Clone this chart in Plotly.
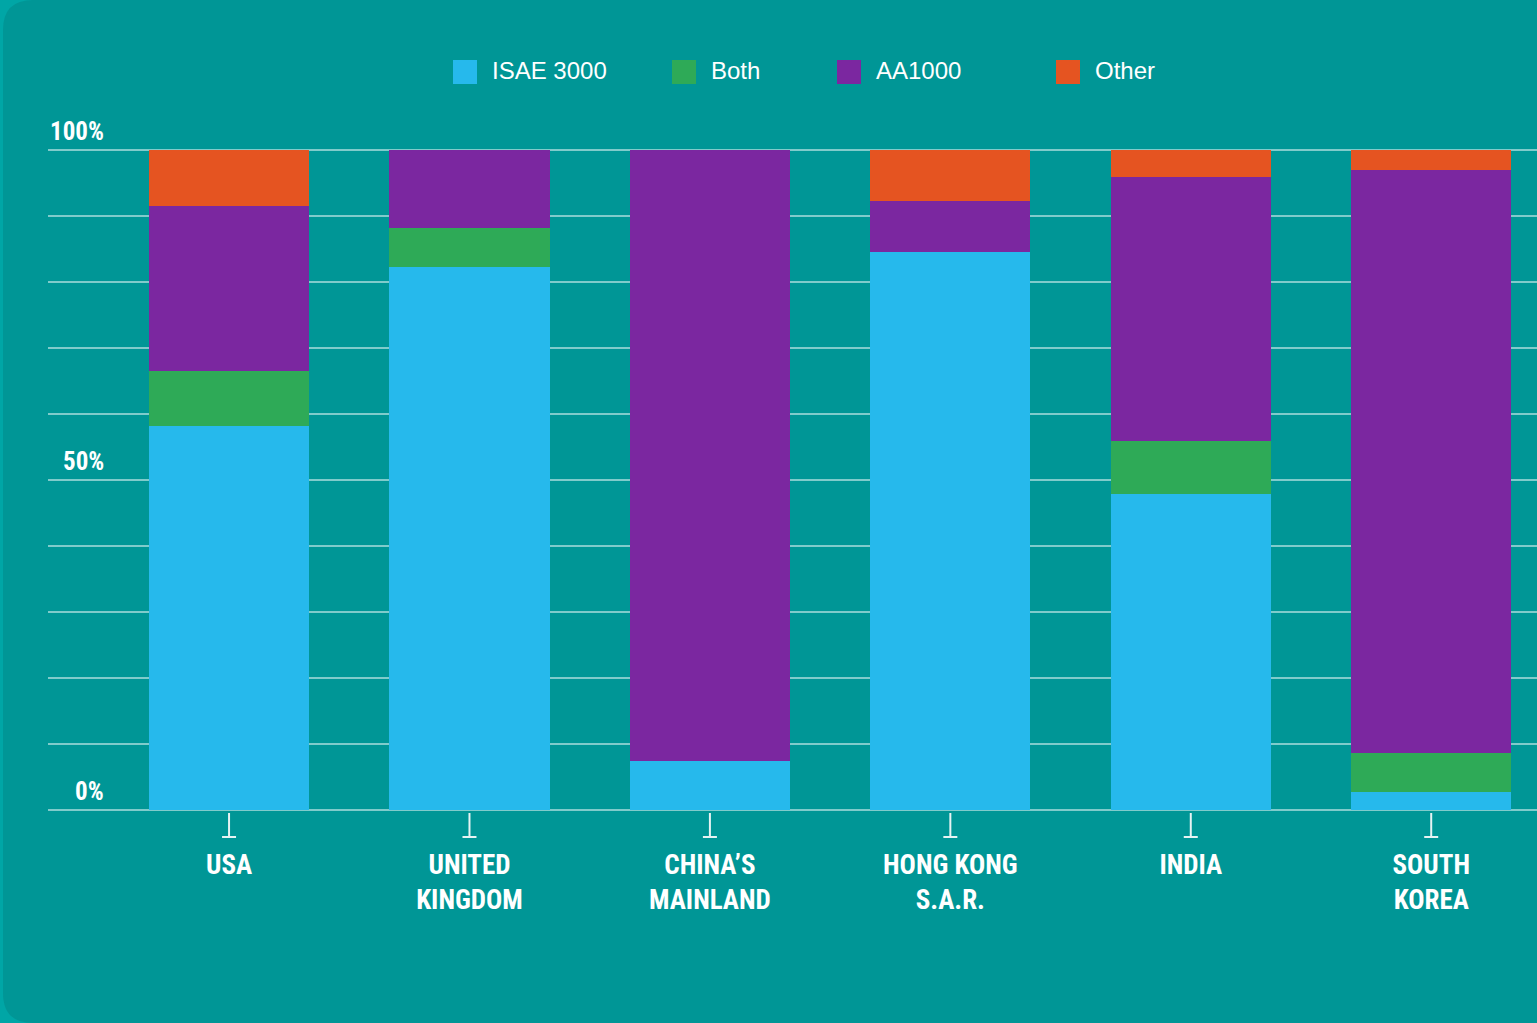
import plotly.graph_objects as go

# Share of assurance standards used, by market (percent of reports)
categories = ["USA", "UNITED<br>KINGDOM", "CHINA’S<br>MAINLAND", "HONG KONG<br>S.A.R.", "INDIA", "SOUTH<br>KOREA"]
series_names = ["ISAE 3000", "Both", "AA1000", "Other"]
isae_3000 = [58.2, 82.3, 7.4, 84.5, 47.9, 2.7]
both = [8.3, 5.9, 0.0, 0.0, 8.0, 5.9]
aa1000 = [25.0, 11.8, 92.6, 7.8, 40.0, 88.4]
other = [8.5, 0.0, 0.0, 7.7, 4.1, 3.0]
y_tick_values = [0, 50, 100]
y_tick_labels = ["0%", "50%", "100%"]

colors = ["#26B9EC", "#2EAA57", "#7B27A0", "#E55421"]
series_values = [isae_3000, both, aa1000, other]

W, H = 1537, 1023
# value axis padded by 0.3 units each side so the 0% and 100% gridlines render
Y_PAD = 0.3
PX_PER_UNIT = 6.6
pad_px = Y_PAD * PX_PER_UNIT
ML, MR = 48, 0
MT = round(150 - pad_px)
MB = round(H - 810 - pad_px)
PW, PH = W - ML - MR, H - MT - MB


def px_x(p):
    return (p - ML) / PW


def px_y(p):
    return (H - MB - p) / PH


label_font = "Liberation Sans Narrow, Roboto Condensed, DejaVu Sans Condensed, Arial Narrow, Roboto"
legend_font = "Liberation Sans, Arial, Helvetica, sans-serif"

fig = go.Figure()
xs = list(range(len(categories)))
for name, vals, col in zip(series_names, series_values, colors):
    fig.add_trace(go.Bar(
        x=xs, y=vals, name=name, marker=dict(color=col, line=dict(width=0)),
        width=0.666, showlegend=False,
    ))

shapes = []
# rounded inner panel
x0, x1 = px_x(3), px_x(W + 40)
y0, y1 = px_y(0), px_y(H)
rx, ry = 30 / PW, 30 / PH
panel = (f"M {x0 + rx},{y0} L {x1},{y0} L {x1},{y1} L {x0 + rx},{y1} "
         f"Q {x0},{y1} {x0},{y1 + ry} L {x0},{y0 - ry} Q {x0},{y0} {x0 + rx},{y0} Z")
shapes.append(dict(type="path", xref="paper", yref="paper", path=panel,
                   fillcolor="#009696", line=dict(width=0), layer="below"))

# tick marks with a small cap under each category
axis_y = px_y(810)
for i in xs:
    shapes.append(dict(type="line", xref="x", yref="paper", ysizemode="pixel",
                       yanchor=axis_y, x0=i, x1=i, y0=-3, y1=-27,
                       line=dict(color="#E6F3F3", width=2)))
    shapes.append(dict(type="line", xref="x", yref="paper", xsizemode="pixel", ysizemode="pixel",
                       xanchor=i, yanchor=axis_y, x0=-7, x1=7, y0=-27, y1=-27,
                       line=dict(color="#E6F3F3", width=2)))

annotations = []
# manual legend
legend_left_px = [453, 672, 837, 1056]
for name, col, lx in zip(series_names, colors, legend_left_px):
    shapes.append(dict(type="rect", xref="paper", yref="paper",
                       x0=px_x(lx), x1=px_x(lx + 24), y0=px_y(60), y1=px_y(84),
                       fillcolor=col, line=dict(width=0)))
    annotations.append(dict(xref="paper", yref="paper", x=px_x(lx + 37), y=px_y(71),
                            xanchor="left", yanchor="middle", showarrow=False, text=name,
                            font=dict(family=legend_font, size=24, color="white")))

# y labels sitting above their gridlines
for v, t in zip(y_tick_values, y_tick_labels):
    annotations.append(dict(xref="paper", yref="y", x=px_x(106), y=v, xanchor="right",
                            yanchor="bottom", yshift=2, showarrow=False, text=f"<b>{t}</b>",
                            font=dict(family=label_font, size=25, color="white")))

fig.update_layout(
    width=W, height=H,
    margin=dict(l=ML, r=MR, t=MT, b=MB, pad=0),
    paper_bgcolor="#00A6A6",
    plot_bgcolor="rgba(0,0,0,0)",
    barmode="stack",
    bargap=0,
    shapes=shapes,
    annotations=annotations,
    xaxis=dict(
        range=[-0.753, 5.44], tickmode="array", tickvals=xs,
        ticktext=[f"<b>{c}</b>" for c in categories],
        tickfont=dict(family=label_font, size=27, color="white"),
        showgrid=False, zeroline=False, showline=False, ticks="",
        ticklabelstandoff=34, fixedrange=True,
    ),
    yaxis=dict(
        range=[-Y_PAD, 100 + Y_PAD], tickmode="linear", tick0=0, dtick=10,
        showgrid=True, gridcolor="rgba(255,255,255,0.5)",
        gridwidth=2, zeroline=False, showline=False, showticklabels=False, ticks="",
        fixedrange=True,
    ),
)

fig.write_html("out.html", config={"displayModeBar": False})
